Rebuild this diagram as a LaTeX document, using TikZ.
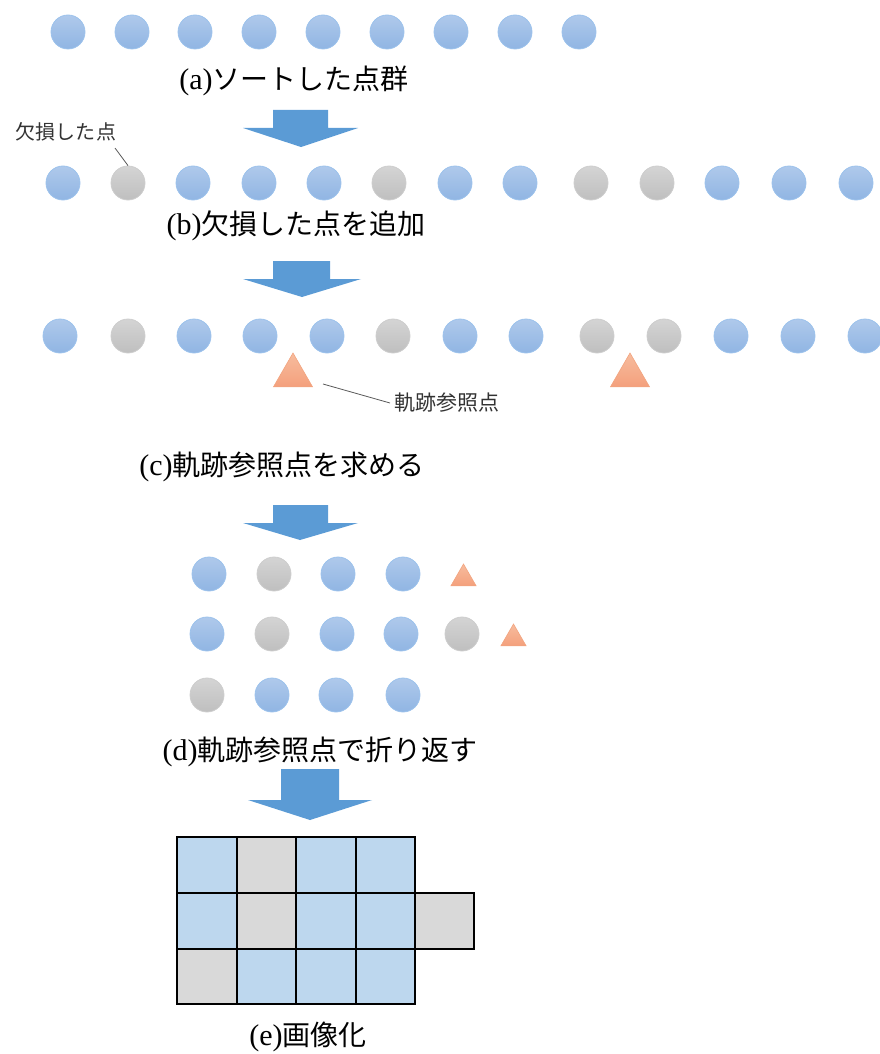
\documentclass[tikz,border=0pt]{standalone}
\usepackage{fontspec}
\setmainfont{Liberation Serif}
\newfontfamily\cjk{Noto Sans CJK JP}
\usetikzlibrary{shapes.geometric}
\definecolor{bluetop}{HTML}{AFC9EB}
\definecolor{bluebot}{HTML}{90B5E3}
\definecolor{blueedge}{HTML}{9CC2EC}
\definecolor{greytop}{HTML}{D4D4D4}
\definecolor{greybot}{HTML}{BFBFBF}
\definecolor{greyedge}{HTML}{CDCDCD}
\definecolor{oratop}{HTML}{F7BC9E}
\definecolor{orabot}{HTML}{F4A07C}
\definecolor{oraedge}{HTML}{F2A47F}
\definecolor{arrowblue}{HTML}{5B9BD5}
\definecolor{cellblue}{HTML}{BDD7EE}
\definecolor{cellgrey}{HTML}{D9D9D9}
\definecolor{leader}{HTML}{595959}
\tikzset{
  bpt/.style={circle,inner sep=0pt,minimum size=34pt,top color=bluetop,bottom color=bluebot,draw=blueedge,line width=0.8pt},
  gpt/.style={circle,inner sep=0pt,minimum size=34pt,top color=greytop,bottom color=greybot,draw=greyedge,line width=0.8pt},
  tri/.style={regular polygon,regular polygon sides=3,inner sep=0pt,minimum size=#1,top color=oratop,bottom color=orabot,draw=oraedge,line width=0.6pt},
  caption/.style={inner sep=0pt,font=\fontsize{30}{32}\selectfont},
  smalllabel/.style={inner sep=0pt,font=\cjk\fontsize{20}{22}\selectfont,text=black!80},
  leaderline/.style={draw=leader,line width=0.8pt},
  blockarrow/.style={fill=arrowblue,draw=none},
  cellb/.style={fill=cellblue,draw=black,line width=2.2pt},
  cellg/.style={fill=cellgrey,draw=black,line width=2.2pt}
}
\newcommand{\jp}[1]{{\cjk\fontsize{28}{30}\selectfont #1}}
\begin{document}
\begin{tikzpicture}[x=1pt,y=-1pt]
\useasboundingbox (0,0) rectangle (879,1054);
% ---- (a)
\foreach \x [count=\i] in {68,132,195,259,323,387,451,515,579}
  \node[bpt] (a\i) at (\x,32) {};
\node[caption] (capa) at (294,81) {(a)\jp{ソートした点群}};
% arrow 1
\path[blockarrow] (273,110) -- (328,110) -- (328,128) -- (358,128) -- (301,147) -- (243,128) -- (273,128) -- cycle;
% ---- (b)
\foreach \x/\s [count=\i] in {63/bpt,128/gpt,193/bpt,259/bpt,324/bpt,389/gpt,455/bpt,520/bpt,591/gpt,657/gpt,722/bpt,789/bpt,856/bpt}
  \node[\s] (b\i) at (\x,183) {};
\node[smalllabel] (lblmiss) at (66,132) {欠損した点};
\coordinate (missend) at (115,148);
\draw[leaderline] (missend) -- (b2.north);
\node[caption] (capb) at (296,226) {(b)\jp{欠損した点を追加}};
% arrow 2
\path[blockarrow] (273,261) -- (330,261) -- (330,279) -- (361,279) -- (302,297) -- (243,279) -- (273,279) -- cycle;
% ---- (c)
\foreach \x/\s [count=\i] in {60/bpt,128/gpt,194/bpt,260/bpt,327/bpt,393/gpt,460/bpt,526/bpt,597/gpt,664/gpt,731/bpt,798/bpt,865/bpt}
  \node[\s] (c\i) at (\x,336) {};
\node[tri=45pt] (t1) at (293,375.5) {};
\node[tri=45pt] (t2) at (630,375.5) {};
\node[smalllabel,anchor=west,font=\cjk\fontsize{21}{23}\selectfont,inner xsep=4pt] (lbltraj) at (390,403) {軌跡参照点};
\coordinate (trajstart) at (323,384);
\draw[leaderline] (trajstart) -- (lbltraj.west);
\node[caption] (capc) at (282,467) {(c)\jp{軌跡参照点を求める}};
% arrow 3
\path[blockarrow] (273,505) -- (328,505) -- (328,523) -- (358,523) -- (300,540) -- (243,523) -- (273,523) -- cycle;
% ---- (d)
\foreach \x/\s [count=\i] in {209/bpt,274/gpt,338/bpt,403/bpt}
  \node[\s] (d1\i) at (\x,574) {};
\node[tri=29pt] (td1) at (463.5,578.5) {};
\foreach \x/\s [count=\i] in {207/bpt,272/gpt,337/bpt,401/bpt,462/gpt}
  \node[\s] (d2\i) at (\x,634) {};
\node[tri=29pt] (td2) at (513.5,638.5) {};
\foreach \x/\s [count=\i] in {207/gpt,272/bpt,336/bpt,403/bpt}
  \node[\s] (d3\i) at (\x,695) {};
\node[caption] (capd) at (320,752) {(d)\jp{軌跡参照点で折り返す}};
% arrow 4
\path[blockarrow] (281,769) -- (339,769) -- (339,800) -- (372,800) -- (310,820) -- (248,800) -- (281,800) -- cycle;
% ---- (e) grid
\foreach \xa/\xb/\s in {177/237/cellb,237/296/cellg,296/356/cellb,356/415/cellb}
  \path[\s] (\xa,837) rectangle (\xb,893);
\foreach \xa/\xb/\s in {177/237/cellb,237/296/cellg,296/356/cellb,356/415/cellb,415/474/cellg}
  \path[\s] (\xa,893) rectangle (\xb,949);
\foreach \xa/\xb/\s in {177/237/cellg,237/296/cellb,296/356/cellb,356/415/cellb}
  \path[\s] (\xa,949) rectangle (\xb,1004);
\node[caption] (cape) at (308,1037) {(e)\jp{画像化}};
\end{tikzpicture}
\end{document}
